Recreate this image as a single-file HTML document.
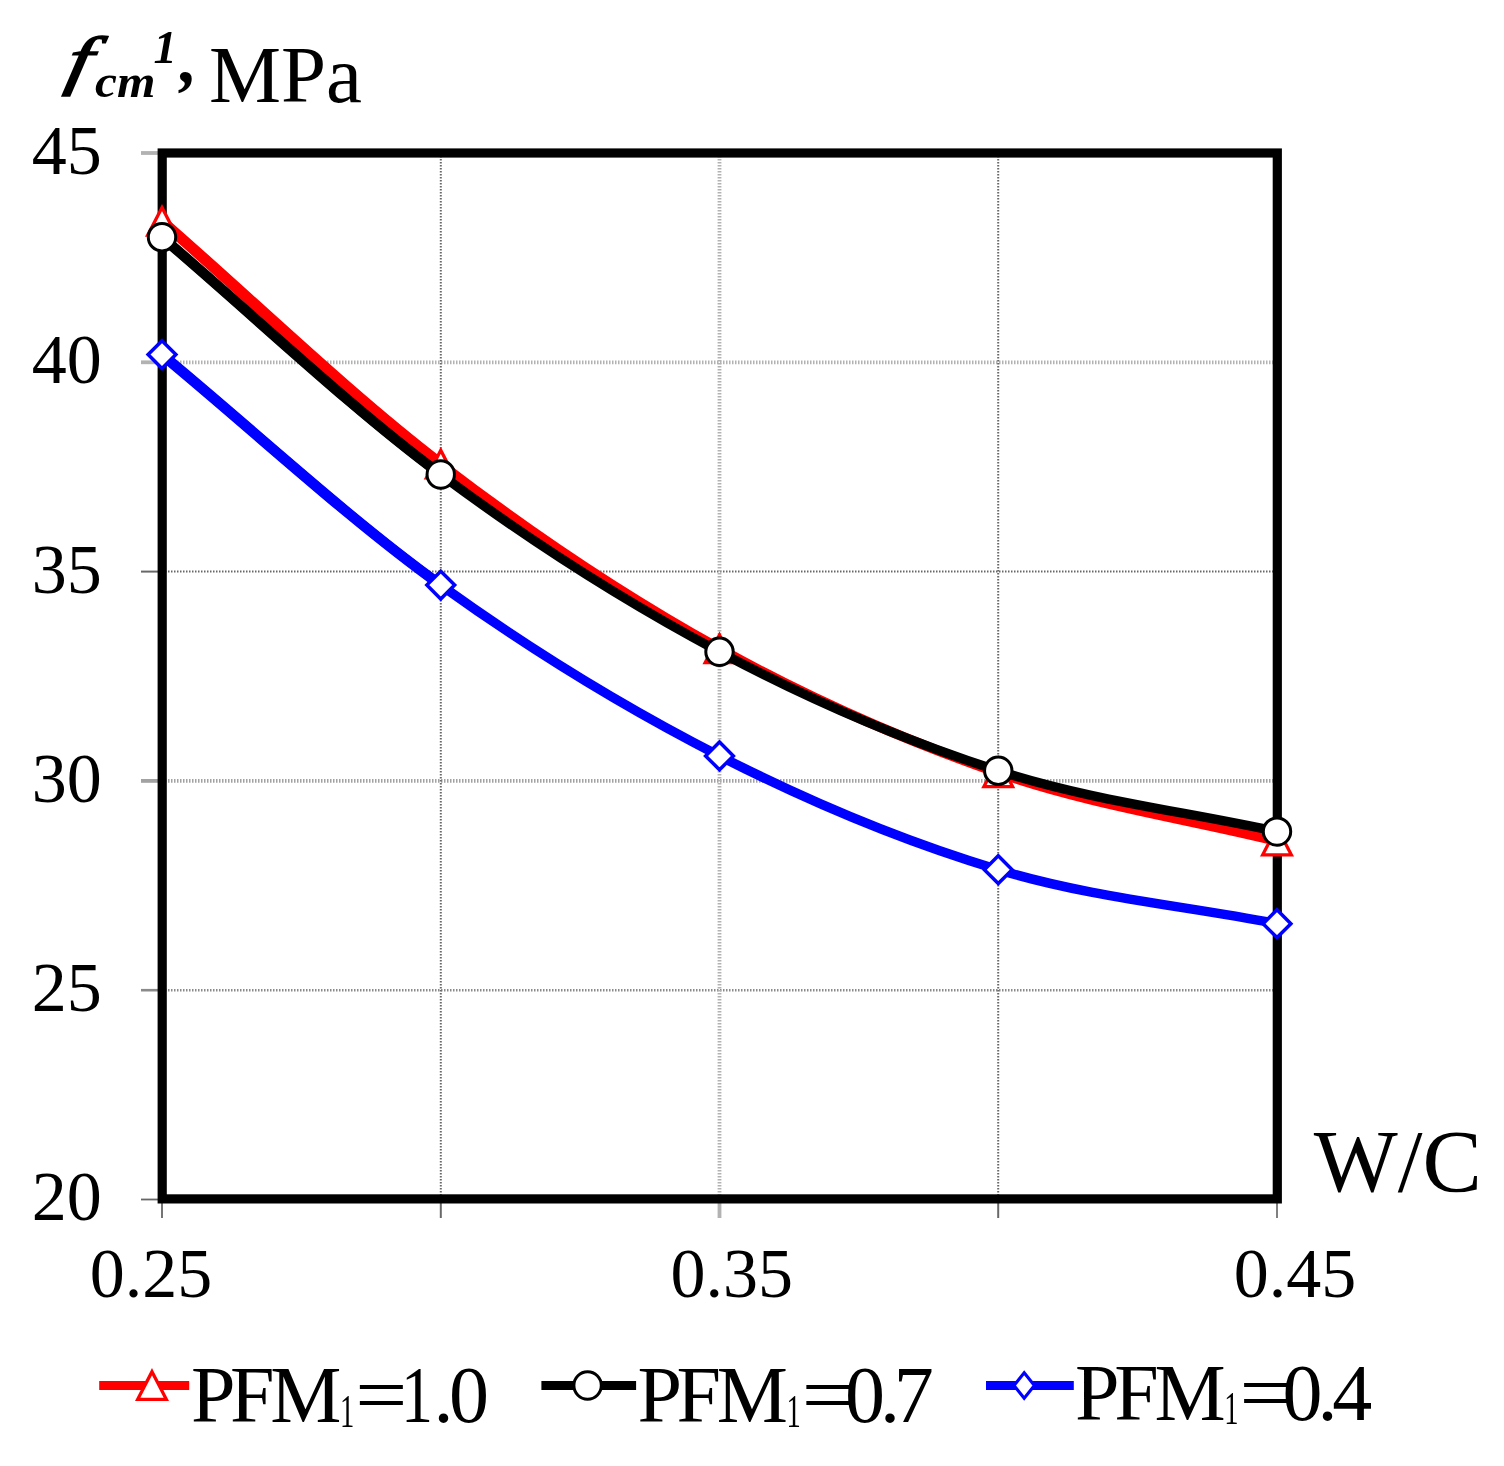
<!DOCTYPE html>
<html lang="en"><head><meta charset="utf-8"><title>Chart</title>
<style>html,body{margin:0;padding:0;background:#fff}svg{display:block;filter:blur(0.5px)}text{font-family:"Liberation Serif",serif;fill:#000}</style>
</head><body>
<svg width="1504" height="1466" viewBox="0 0 1504 1466">
<rect width="1504" height="1466" fill="#fff"/>
<line x1="141" y1="153.0" x2="162.0" y2="153.0" stroke="#b2b2b2" stroke-width="3.8"/>
<line x1="162.0" y1="362.3" x2="1277.0" y2="362.3" stroke="#b2b2b2" stroke-width="3.8" stroke-dasharray="1.5 1.5"/>
<line x1="141" y1="362.3" x2="162.0" y2="362.3" stroke="#b2b2b2" stroke-width="3.8"/>
<line x1="162.0" y1="571.6" x2="1277.0" y2="571.6" stroke="#686868" stroke-width="2.0" stroke-dasharray="1.5 1.5"/>
<line x1="141" y1="571.6" x2="162.0" y2="571.6" stroke="#686868" stroke-width="2.0"/>
<line x1="162.0" y1="780.9" x2="1277.0" y2="780.9" stroke="#a2a2a2" stroke-width="3.8" stroke-dasharray="1.5 1.5"/>
<line x1="141" y1="780.9" x2="162.0" y2="780.9" stroke="#a2a2a2" stroke-width="3.8"/>
<line x1="162.0" y1="990.2" x2="1277.0" y2="990.2" stroke="#8a8a8a" stroke-width="2.6" stroke-dasharray="1.5 1.5"/>
<line x1="141" y1="990.2" x2="162.0" y2="990.2" stroke="#8a8a8a" stroke-width="2.6"/>
<line x1="141" y1="1199.5" x2="162.0" y2="1199.5" stroke="#666666" stroke-width="1.8"/>
<line x1="162.0" y1="1199.5" x2="162.0" y2="1218" stroke="#666666" stroke-width="1.8"/>
<line x1="440.8" y1="153.0" x2="440.8" y2="1199.5" stroke="#686868" stroke-width="2.0" stroke-dasharray="1.5 1.5"/>
<line x1="440.8" y1="1199.5" x2="440.8" y2="1218" stroke="#686868" stroke-width="2.0"/>
<line x1="719.5" y1="153.0" x2="719.5" y2="1199.5" stroke="#b2b2b2" stroke-width="3.8" stroke-dasharray="1.5 1.5"/>
<line x1="719.5" y1="1199.5" x2="719.5" y2="1218" stroke="#b2b2b2" stroke-width="3.8"/>
<line x1="998.2" y1="153.0" x2="998.2" y2="1199.5" stroke="#686868" stroke-width="2.0" stroke-dasharray="1.5 1.5"/>
<line x1="998.2" y1="1199.5" x2="998.2" y2="1218" stroke="#686868" stroke-width="2.0"/>
<line x1="1277.0" y1="1199.5" x2="1277.0" y2="1218" stroke="#808080" stroke-width="2.0"/>
<rect x="162.2" y="153" width="1115.1" height="1045.9" fill="none" stroke="#000" stroke-width="9.2"/>
<path d="M162.00 221.40 C254.92 302.30 347.83 392.88 440.75 464.10 C533.67 535.32 626.58 597.26 719.50 648.70 C812.42 700.14 905.33 740.70 998.25 772.75 C1091.17 804.80 1184.08 818.25 1277.00 841.00" fill="none" stroke="#f00" stroke-width="9.9"/>
<path d="M162.00 221.40 C254.92 302.30 347.83 392.88 440.75 464.10" fill="none" stroke="#f00" stroke-width="11.2"/>
<path d="M162.00 207.60 L176.30 235.20 L147.70 235.20 Z" fill="#fff" stroke="#f00" stroke-width="3.3" stroke-linejoin="miter"/>
<path d="M440.75 450.30 L455.05 477.90 L426.45 477.90 Z" fill="#fff" stroke="#f00" stroke-width="3.3" stroke-linejoin="miter"/>
<path d="M719.50 634.90 L733.80 662.50 L705.20 662.50 Z" fill="#fff" stroke="#f00" stroke-width="3.3" stroke-linejoin="miter"/>
<path d="M998.25 758.95 L1012.55 786.55 L983.95 786.55 Z" fill="#fff" stroke="#f00" stroke-width="3.3" stroke-linejoin="miter"/>
<path d="M1277.00 827.20 L1291.30 854.80 L1262.70 854.80 Z" fill="#fff" stroke="#f00" stroke-width="3.3" stroke-linejoin="miter"/>
<path d="M162.00 237.20 C254.92 316.30 347.83 405.40 440.75 474.50 C533.67 543.60 626.58 602.43 719.50 651.80 C812.42 701.17 905.33 740.73 998.25 770.70 C1091.17 800.67 1184.08 811.30 1277.00 831.60" fill="none" stroke="#000" stroke-width="9.4"/>
<path d="M162.00 237.20 C254.92 316.30 347.83 405.40 440.75 474.50" fill="none" stroke="#000" stroke-width="10.4"/>
<circle cx="162.00" cy="237.20" r="13.7" fill="#fff" stroke="#000" stroke-width="3"/>
<circle cx="440.75" cy="474.50" r="13.7" fill="#fff" stroke="#000" stroke-width="3"/>
<circle cx="719.50" cy="651.80" r="13.7" fill="#fff" stroke="#000" stroke-width="3"/>
<circle cx="998.25" cy="770.70" r="13.7" fill="#fff" stroke="#000" stroke-width="3"/>
<circle cx="1277.00" cy="831.60" r="13.7" fill="#fff" stroke="#000" stroke-width="3"/>
<path d="M162.00 354.60 C254.92 431.43 347.83 518.22 440.75 585.10 C533.67 651.98 626.58 708.47 719.50 755.90 C812.42 803.33 905.33 841.73 998.25 869.70 C1091.17 897.67 1184.08 905.70 1277.00 923.70" fill="none" stroke="#00f" stroke-width="9.5"/>
<path d="M162.00 354.60 C254.92 431.43 347.83 518.22 440.75 585.10" fill="none" stroke="#00f" stroke-width="10.6"/>
<path d="M162.00 340.70 L175.90 354.60 L162.00 368.50 L148.10 354.60 Z" fill="#fff" stroke="#00f" stroke-width="3.5" stroke-linejoin="miter"/>
<path d="M440.75 571.20 L454.65 585.10 L440.75 599.00 L426.85 585.10 Z" fill="#fff" stroke="#00f" stroke-width="3.5" stroke-linejoin="miter"/>
<path d="M719.50 742.00 L733.40 755.90 L719.50 769.80 L705.60 755.90 Z" fill="#fff" stroke="#00f" stroke-width="3.5" stroke-linejoin="miter"/>
<path d="M998.25 855.80 L1012.15 869.70 L998.25 883.60 L984.35 869.70 Z" fill="#fff" stroke="#00f" stroke-width="3.5" stroke-linejoin="miter"/>
<path d="M1277.00 909.80 L1290.90 923.70 L1277.00 937.60 L1263.10 923.70 Z" fill="#fff" stroke="#00f" stroke-width="3.5" stroke-linejoin="miter"/>
<text x="31.8" y="174.4" font-size="70">45</text>
<text x="31.8" y="383.2" font-size="70">40</text>
<text x="31.8" y="592.5" font-size="70">35</text>
<text x="31.8" y="801.8" font-size="70">30</text>
<text x="31.8" y="1011.1" font-size="70">25</text>
<text x="31.8" y="1220.4" font-size="70">20</text>
<text x="89.8" y="1297" font-size="70">0.25</text>
<text x="670.4" y="1297" font-size="70">0.35</text>
<text x="1233.8" y="1297" font-size="70">0.45</text>
<text x="1313.8" y="1190.7" font-size="89">W/C</text>
<text transform="translate(64,82.2) skewX(-11) scale(1.36,1)" font-size="65.5" font-style="italic" stroke="#000" stroke-width="1.5">f</text>
<text font-weight="bold" font-style="italic"><tspan x="95" y="97.4" font-size="46" textLength="60.4" lengthAdjust="spacingAndGlyphs">cm</tspan><tspan x="153.5" y="62.7" font-size="46.5">1</tspan><tspan x="180" y="82.3" font-size="70">,</tspan><tspan x="192 208.9" y="101.9" font-size="81" font-weight="normal" font-style="normal"> MPa</tspan></text>
<line x1="99.2" y1="1385.5" x2="189.2" y2="1385.5" stroke="#f00" stroke-width="8.8"/>
<path d="M152.00 1371.70 L166.30 1399.30 L137.70 1399.30 Z" fill="#fff" stroke="#f00" stroke-width="3.3" stroke-linejoin="miter"/>
<text y="1422.4" font-size="80"><tspan x="190.9 230.1 270.2">PFM</tspan><tspan x="340.1" dy="4.2" font-size="46" textLength="14.26" lengthAdjust="spacingAndGlyphs">1</tspan><tspan x="355.2" dy="-4.2" textLength="52.15" lengthAdjust="spacingAndGlyphs">=</tspan><tspan x="401.1" textLength="32.00" lengthAdjust="spacingAndGlyphs">1</tspan><tspan x="433.4 448.9">.0</tspan></text>
<line x1="541.4" y1="1385.5" x2="636.1" y2="1385.5" stroke="#000" stroke-width="8.8"/>
<circle cx="587.60" cy="1385.50" r="13.7" fill="#fff" stroke="#000" stroke-width="3"/>
<text y="1422.4" font-size="80"><tspan x="637.4 676.6 716.7">PFM</tspan><tspan x="786.6" dy="4.2" font-size="46" textLength="14.26" lengthAdjust="spacingAndGlyphs">1</tspan><tspan x="801.7" dy="-4.2" textLength="52.15" lengthAdjust="spacingAndGlyphs">=</tspan><tspan x="844.9 880.0 893.7">0.7</tspan></text>
<line x1="986.0" y1="1385.5" x2="1073.8" y2="1385.5" stroke="#00f" stroke-width="8.8"/>
<path d="M1024.20 1372.70 L1034.40 1385.50 L1024.20 1398.30 L1014.00 1385.50 Z" fill="#fff" stroke="#00f" stroke-width="3.1"/>
<text y="1420.0" font-size="80"><tspan x="1075.1 1114.3 1154.4">PFM</tspan><tspan x="1224.3" dy="4.2" font-size="46" textLength="14.26" lengthAdjust="spacingAndGlyphs">1</tspan><tspan x="1239.4" dy="-4.2" textLength="52.15" lengthAdjust="spacingAndGlyphs">=</tspan><tspan x="1282.5 1317.6 1332.3">0.4</tspan></text>
</svg>
</body></html>
